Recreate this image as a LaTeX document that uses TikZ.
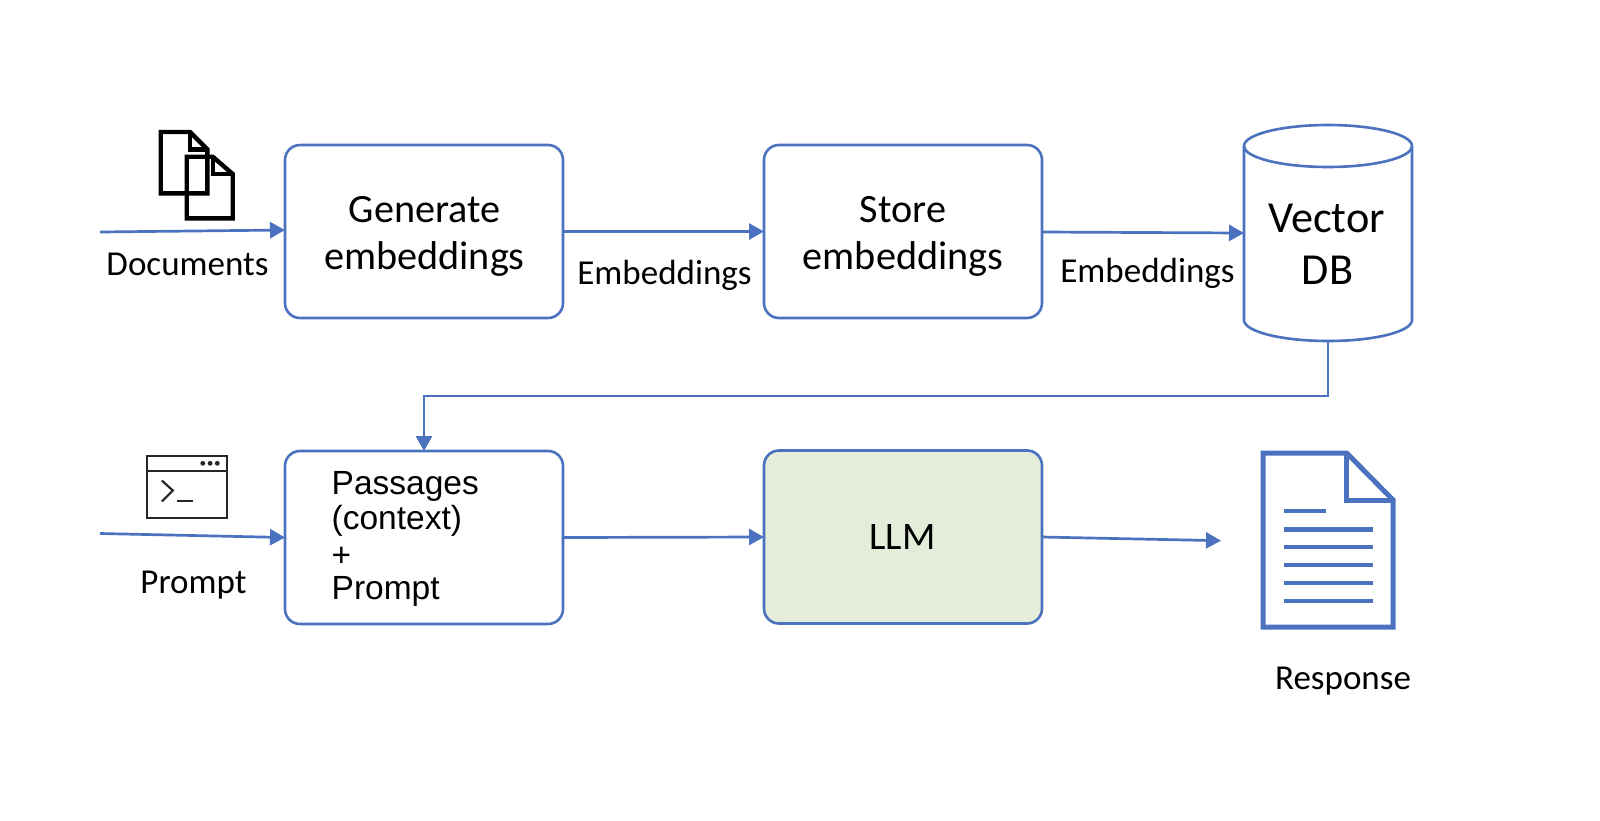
\documentclass[tikz,border=0pt]{standalone}
\usepackage{fontspec}
\setmainfont{Carlito}
\newfontfamily\arialfont{Liberation Sans}
\usetikzlibrary{arrows.meta}
\definecolor{flowblue}{HTML}{4A72BE}
\definecolor{llmgreen}{HTML}{E3EDD9}
\tikzset{
  x=1pt,y=-1pt,
  procbox/.style={draw=flowblue,line width=2.6pt,rounded corners=15pt,minimum width=278pt,minimum height=173pt,inner sep=0pt,outer sep=0pt},
  flow/.style={draw=flowblue,line width=2.7pt,-{Triangle[length=15pt,width=16pt]}},
  txt/.style={anchor=base,inner sep=0pt,text=black,font=\fontsize{#1}{#1}\selectfont},
  icon/.style={draw=black,line width=4.4pt,miter limit=4},
  termicon/.style={draw=black!85,line width=2.2pt},
  respicon/.style={draw=flowblue,line width=5pt},
  respline/.style={draw=flowblue,line width=4.4pt}
}
\begin{document}
\begin{tikzpicture}
\useasboundingbox (0,0) rectangle (1600,820);
\fill[white] (0,0) rectangle (1600,820);

% boxes
\node[procbox] (gen) at (424,231.5) {};
\node[procbox] (store) at (903,231.5) {};
\node[procbox] (pass) at (424,537.5) {};
\node[procbox,fill=llmgreen] (llm) at (903,537) {};

% vector DB cylinder
\node[minimum width=168pt,minimum height=216pt,inner sep=0pt,outer sep=0pt] (db) at (1328,233) {};
\draw[draw=flowblue,line width=2.6pt] (1244,146) -- (1244,320)
  arc[start angle=180,end angle=360,x radius=84,y radius=-21] -- (1412,146);
\draw[draw=flowblue,line width=2.6pt] (1328,146) ellipse[x radius=84,y radius=21];

% box texts
\node[txt=40.2] (t1) at (424.5,222) {Generate};
\node[txt=40.2] (t2) at (424.5,269.5) {embeddings};
\node[txt=40.2] (t3) at (903,222) {Store};
\node[txt=40.2] (t4) at (903,269.5) {embeddings};
\node[txt=44.3] (t5) at (1326.5,232) {Vector};
\node[txt=44.3] (t6) at (1327.5,284) {DB};
\node[txt=39] (t7) at (902.5,549.5) {LLM};
\node[txt=33.5,anchor=base west] (p1) at (331.5,494) {\arialfont Passages};
\node[txt=33.5,anchor=base west] (p2) at (331.5,529) {\arialfont (context)};
\node[txt=33.5,anchor=base west] (p3) at (331.5,566) {\arialfont +};
\node[txt=33.5,anchor=base west] (p4) at (331.5,599) {\arialfont Prompt};

% free labels
\node[txt=35] (l1) at (187.5,275) {Documents};
\node[txt=35] (l2) at (193.5,593) {Prompt};
\node[txt=35] (l3) at (664.5,284.5) {Embeddings};
\node[txt=35] (l4) at (1147.5,282) {Embeddings};
\node[txt=35] (l5) at (1343,689.5) {Response};

% connectors
\coordinate (docin) at (100,232);
\coordinate (docend) at (285,230);
\coordinate (promptin) at (100,533.5);
\coordinate (respout) at (1221,540.7);
\coordinate (dbin) at (1244,233);
\coordinate (dbout) at (1328,341);
\coordinate (storeout) at (1042,232);
\draw[flow] (docin) -- (docend);
\draw[flow] (gen.east) -- (store.west);
\draw[flow] (storeout) -- (dbin);
\draw[flow] (promptin) -- (pass.west);
\draw[flow] (pass.east) -- (llm.west);
\draw[flow] (llm.east) -- (respout);
\draw[flow] (dbout) -- (1328,396) -- (424,396) -- (pass.north);

% documents icon
\draw[icon] (160.7,132) -- (190,132) -- (207.3,149.3) -- (207.3,193.3) -- (160.7,193.3) -- cycle;
\draw[icon] (190,132) -- (190,149.3) -- (207.3,149.3);
\draw[icon] (186.7,156.7) -- (212.7,156.7) -- (232.7,174) -- (232.7,218.3) -- (186.7,218.3) -- cycle;
\draw[icon] (212.7,156.7) -- (212.7,174) -- (232.7,174);

% terminal icon
\draw[termicon] (147.3,456) rectangle (227.3,518);
\draw[termicon] (147.3,471) -- (227.3,471);
\fill[black!85] (202.8,463.3) circle[radius=2.4] (210.1,463.3) circle[radius=2.4] (217.3,463.3) circle[radius=2.4];
\draw[termicon] (161.8,480.5) -- (172.8,490.5) -- (161.8,501.5);
\draw[termicon] (177.3,501) -- (193.3,501);

% response icon
\draw[respicon] (1263,453) -- (1346.7,453) -- (1393,500) -- (1393,627) -- (1263,627) -- cycle;
\draw[respicon] (1346.7,453) -- (1346.7,500) -- (1393,500);
\draw[respline] (1284,511) -- (1326,511);
\draw[respline] (1284,529.3) -- (1372.7,529.3);
\draw[respline] (1284,547) -- (1372.7,547);
\draw[respline] (1284,565) -- (1372.7,565);
\draw[respline] (1284,582.7) -- (1372.7,582.7);
\draw[respline] (1284,600.7) -- (1372.7,600.7);
\end{tikzpicture}
\end{document}
